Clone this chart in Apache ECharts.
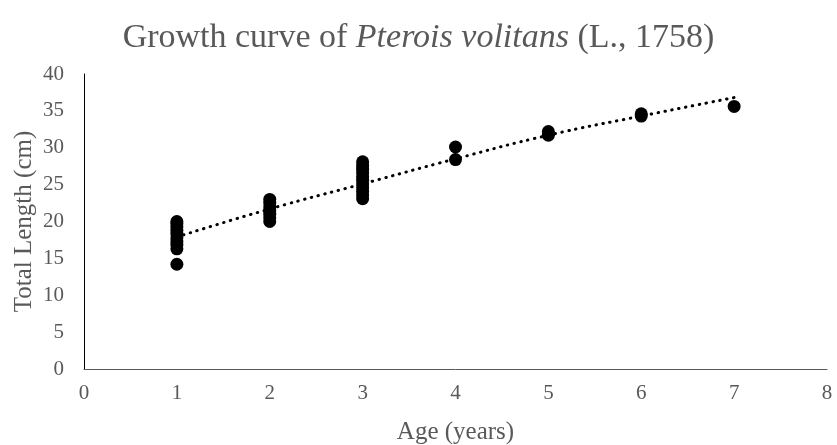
<!DOCTYPE html>
<html>
<head>
<meta charset="utf-8">
<script src="https://cdn.jsdelivr.net/npm/echarts@6/dist/echarts.min.js"></script>
<style>html,body{margin:0;padding:0;background:#fff}#c{width:837px;height:445px}</style>
</head>
<body>
<div id="c"></div>
<script>
const ages = [1,1,1,1,1,1,1,1,1,1, 2,2,2,2,2,2,2, 3,3,3,3,3,3,3,3,3,3,3, 4,4, 5,5, 6,6, 7];
const lengths = [14.2,16.3,16.8,17.3,17.8,18.3,18.8,19.3,19.7,20.0,
  20.0,20.5,21.0,21.5,22.0,22.5,23.0,
  23.1,23.6,24.1,24.6,25.1,25.6,26.1,26.6,27.1,27.6,28.1,
  28.4,30.1, 31.7,32.2, 34.3,34.6, 35.6];
const trendAges = [1,2,3,4,5,6,7];
const trendValues = [17.9,21.7,25.1,28.5,31.7,34.3,36.8];
const xTicks = [0,1,2,3,4,5,6,7,8];
const yTicks = [0,5,10,15,20,25,30,35,40];

const font = '"Liberation Serif","Times New Roman",serif';
const chart = echarts.init(document.getElementById('c'));
chart.setOption({
  animation:false,
  title:{
    text:'Growth curve of {i|Pterois volitans} (L., 1758)',
    left:'center', top:16,
    textStyle:{fontFamily:font,fontSize:34,fontWeight:'normal',color:'#595959',
      rich:{i:{fontFamily:font,fontSize:34,fontStyle:'italic',color:'#595959'}}}
  },
  grid:{left:84,right:10,top:74,bottom:76,containLabel:false,outerBoundsMode:'none'},
  xAxis:{
    type:'value',min:0,max:8,interval:1,
    name:'Age (years)',nameLocation:'middle',nameGap:51,nameMoveOverlap:false,
    nameTextStyle:{fontFamily:font,fontSize:25,color:'#595959'},
    axisLine:{show:true,onZero:false,lineStyle:{color:'#595959',width:1}},
    axisTick:{show:false},splitLine:{show:false},
    axisLabel:{fontFamily:font,fontSize:21,color:'#595959',margin:14,
      formatter:v=>xTicks.includes(v)?String(v):''}
  },
  yAxis:{
    type:'value',min:0,max:40,interval:5,
    name:'Total Length (cm)',nameLocation:'middle',nameGap:47,nameMoveOverlap:false,
    nameTextStyle:{fontFamily:font,fontSize:25,color:'#595959'},
    axisLine:{show:true,lineStyle:{color:'#000',width:1}},
    axisTick:{show:false},splitLine:{show:false},
    axisLabel:{fontFamily:font,fontSize:21,color:'#595959',margin:20,
      formatter:v=>yTicks.includes(v)?String(v):''}
  },
  series:[
    {type:'line',data:trendAges.map((a,i)=>[a,trendValues[i]]),smooth:true,symbol:'none',
      lineStyle:{color:'#000',width:3,type:[0.5,6.5],cap:'round'},z:3},
    {type:'scatter',data:ages.map((a,i)=>[a,lengths[i]]),symbol:'circle',symbolSize:13,
      itemStyle:{color:'#000',opacity:1},z:2}
  ]
});
</script>
</body>
</html>
